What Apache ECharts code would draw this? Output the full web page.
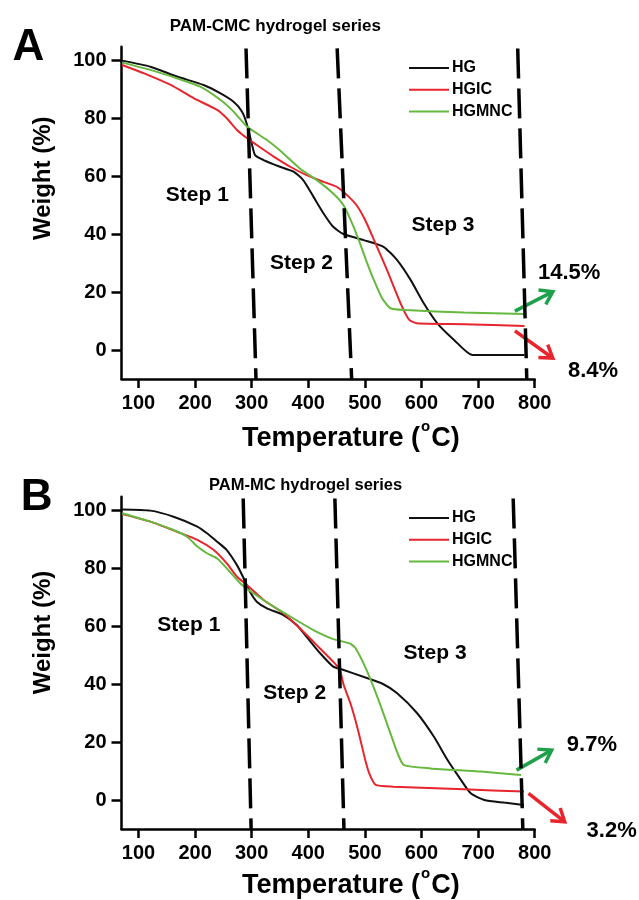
<!DOCTYPE html>
<html>
<head>
<meta charset="utf-8">
<script src="https://cdn.jsdelivr.net/npm/echarts@6/dist/echarts.min.js"></script>
<style>
  html, body { margin: 0; padding: 0; background: #fff; }
  #main { width: 639px; height: 900px; }
</style>
</head>
<body>
<div id="main"></div>
<script>
// TGA curves, [temperature (°C), weight (%)]
// panel A: PAM-CMC hydrogel series
const hgA = [[71, 99.8], [121, 97.7], [168, 94.3], [215, 91.4], [245, 88.5], [268, 85.6], [283, 82.2], [291, 78.2], [300, 71.3], [306, 67.2], [321, 65.5], [350, 63.2], [374, 61.5], [391, 58.6], [409, 52.9], [427, 47.1], [444, 42.5], [462, 40], [498, 37.9], [533, 35.6], [557, 31], [581, 24.1], [604, 16.1], [628, 9.2], [658, 3.4], [690, -1.7], [782, -1.7]];
const hgicA = [[71, 98.3], [110, 95.4], [157, 91.4], [198, 86.8], [239, 82.8], [256, 79.9], [274, 75.9], [292, 73], [309, 70.7], [339, 66.7], [368, 63.2], [397, 60.3], [427, 58], [450, 56.3], [468, 53.5], [485, 50], [500, 45], [516, 38], [539, 27.6], [563, 16.1], [578, 10.5], [592, 9.2], [675, 8.9], [782, 8.3]];
const hgmncA = [[71, 99.1], [121, 96.6], [168, 93.7], [209, 90.8], [245, 86.2], [268, 82.2], [291, 77.2], [327, 72.4], [356, 67.8], [385, 62.6], [415, 58.6], [444, 54], [462, 50], [479, 43], [490, 37.5], [502, 31], [515, 24.5], [530, 18], [545, 14.4], [573, 13.8], [675, 12.9], [782, 12.4]];

// panel B: PAM-MC hydrogel series
const hgB = [[71, 100.2], [121, 99.8], [162, 97.7], [204, 94.3], [221, 92], [239, 89.1], [256, 86.2], [274, 81], [286, 76.4], [297, 71.8], [309, 68.4], [327, 66.1], [356, 63.8], [380, 60.3], [397, 56.3], [421, 50.6], [444, 46], [460, 45], [497, 42.5], [532, 40], [557, 36.8], [592, 30], [622, 21.8], [646, 13.8], [666, 8], [687, 2.3], [711, 0], [746, -0.9], [781, -1.7]];
const hgicB = [[71, 98.6], [121, 96], [168, 92.5], [204, 89.7], [233, 86.2], [256, 81.6], [274, 77], [292, 74.1], [321, 69], [356, 64.4], [385, 59.2], [415, 53.4], [444, 47.7], [456, 44.8], [462, 40], [475, 33], [488, 24], [501, 13.5], [508, 9], [519, 5.2], [550, 4.6], [675, 3.7], [781, 2.9]];
const hgmncB = [[71, 98.9], [121, 96], [162, 93.1], [186, 90.8], [204, 87.4], [221, 85.1], [239, 83.3], [256, 79.9], [280, 74.7], [303, 71.3], [339, 66.7], [374, 62.6], [409, 58.6], [444, 55.5], [473, 54], [483, 52.5], [503, 44.8], [524, 34.5], [546, 22.5], [558, 16], [569, 12], [616, 10.9], [705, 9.8], [776, 8.6]];

const seriesNames = ['HG', 'HGIC', 'HGMNC'];
const tempTicks = [100, 200, 300, 400, 500, 600, 700, 800];
const weightTicks = [0, 20, 40, 60, 80, 100];

// dashed step boundaries: [temperature at top, temperature at bottom]
const stepLinesA = [[290, 307.6], [451, 476.6], [770, 786]];
const stepLinesB = [[285, 299], [447, 463], [762, 779]];

// annotation anchors in data units [temperature, weight]
const stepLabels = ['Step 1', 'Step 2', 'Step 3'];
const stepPosA = [[204, 53.4], [388, 30], [638, 43.1]];
const stepPosB = [[189, 60.3], [376, 36.9], [624, 50.7]];
const residueA = ['14.5%', '8.4%'];
const residueB = ['9.7%', '3.2%'];
const residuePosA = [[861, 26.6], [903, -7.2]];
const residuePosB = [[901, 19], [936, -10.7]];
// arrows: [t0, w0, t1, w1], first green (HGMNC), then red (HGIC)
const arrowsA = [[765, 13.4, 832, 20.1], [765, 6.6, 832, -2.8]];
const arrowsB = [[768, 10.3, 830, 17.2], [789, 2.3, 853, -7.5]];

const FONT = 'Liberation Sans, Arial, Helvetica, sans-serif';
const lineColors = ['#111111', '#e8242c', '#66b83f'];
const arrowColors = ['#1fa04a', '#e8242c'];

const chart = echarts.init(document.getElementById('main'));

function makeXAxis(gi) {
  return {
    type: 'value',
    gridIndex: gi,
    min: 70,
    max: 800,
    axisLine: { show: true, onZero: false, lineStyle: { color: '#000', width: 2.5 } },
    axisTick: { show: true, length: 9, customValues: tempTicks, lineStyle: { color: '#000', width: 2.5 } },
    axisLabel: { customValues: tempTicks, margin: 14, color: '#000', fontSize: 20, fontWeight: 'bold', fontFamily: FONT },
    splitLine: { show: false },
  };
}

function makeYAxis(gi) {
  return {
    type: 'value',
    gridIndex: gi,
    min: -10,
    max: 104.6,
    axisLine: { show: true, onZero: false, lineStyle: { color: '#000', width: 2.5 } },
    axisTick: { show: true, length: 10, customValues: weightTicks, lineStyle: { color: '#000', width: 2.5 } },
    axisLabel: { customValues: weightTicks, margin: 15, color: '#000', fontSize: 20, fontWeight: 'bold', fontFamily: FONT },
    splitLine: { show: false },
  };
}

function makeSeries(name, data, idx, gi, steps) {
  const s = {
    name: name,
    type: 'line',
    xAxisIndex: gi,
    yAxisIndex: gi,
    data: data,
    symbol: 'none',
    smooth: 0.2,
    lineStyle: { color: lineColors[idx], width: 2 },
    itemStyle: { color: lineColors[idx] },
    z: 3,
  };
  if (steps) {
    s.markLine = {
      silent: true,
      symbol: ['none', 'none'],
      label: { show: false },
      lineStyle: { color: '#000', width: 3.5, type: [30, 10] },
      data: steps.map((d) => [{ coord: [d[0], 104] }, { coord: [d[1], -10] }]),
    };
  }
  return s;
}

function makeLegend(top) {
  return {
    data: seriesNames,
    orient: 'vertical',
    left: 403,
    top: top,
    itemWidth: 40,
    itemHeight: 16,
    itemGap: 5.7,
    selectedMode: false,
    itemStyle: { opacity: 0 },
    textStyle: { color: '#000', fontSize: 16, fontWeight: 'bold', fontFamily: FONT, padding: [0, 0, 0, -2] },
  };
}

const option = {
  animation: false,
  backgroundColor: '#fff',
  grid: [
    { left: 121.5, top: 46.7, width: 413.2, height: 332.3 },
    { left: 121.5, top: 496.7, width: 413.2, height: 332.3 },
  ],
  xAxis: [makeXAxis(0), makeXAxis(1)],
  yAxis: [makeYAxis(0), makeYAxis(1)],
  legend: [makeLegend(55), makeLegend(505)],
  series: [
    makeSeries('HG', hgA, 0, 0, stepLinesA),
    makeSeries('HGIC', hgicA, 1, 0),
    makeSeries('HGMNC', hgmncA, 2, 0),
    makeSeries('HG', hgB, 0, 1, stepLinesB),
    makeSeries('HGIC', hgicB, 1, 1),
    makeSeries('HGMNC', hgmncB, 2, 1),
  ],
};

chart.setOption(option);

// ---- annotations (texts, arrows), anchored through the axes ----
function toPx(gi, t, w) {
  return chart.convertToPixel({ gridIndex: gi }, [t, w]);
}

function text(x, y, str, size, extra) {
  return Object.assign({
    type: 'text',
    x: x,
    y: y,
    silent: true,
    style: {
      text: str,
      fontSize: size,
      fontWeight: 'bold',
      fontFamily: FONT,
      fill: '#000',
      align: 'center',
      verticalAlign: 'middle',
    },
  }, extra || {});
}

function arrow(gi, a, color) {
  const p0 = toPx(gi, a[0], a[1]);
  const p1 = toPx(gi, a[2], a[3]);
  const dx = p1[0] - p0[0];
  const dy = p1[1] - p0[1];
  const len = Math.sqrt(dx * dx + dy * dy);
  const ux = dx / len;
  const uy = dy / len;
  const hl = 12;
  const hw = 8;
  const bx = p1[0] - ux * hl;
  const by = p1[1] - uy * hl;
  return [
    { type: 'line', silent: true, shape: { x1: p0[0], y1: p0[1], x2: p1[0] - ux * 1.5, y2: p1[1] - uy * 1.5 }, style: { stroke: color, lineWidth: 3.5 } },
    { type: 'polyline', silent: true, shape: { points: [[bx - uy * hw, by + ux * hw], p1, [bx + uy * hw, by - ux * hw]] }, style: { stroke: color, fill: null, lineWidth: 3.5, lineJoin: 'miter' } },
  ];
}

// "Temperature (°C)" with a raised small o, built from three pieces
const measure = document.createElement('canvas').getContext('2d');
function tempTitle(cx, cy) {
  measure.font = 'bold 27px ' + FONT;
  const w1 = measure.measureText('Temperature (').width;
  const w3 = measure.measureText('C)').width;
  measure.font = 'bold 15px ' + FONT;
  const w2 = measure.measureText('o').width + 2;
  const x0 = cx - (w1 + w2 + w3) / 2;
  const parts = [
    text(x0, cy, 'Temperature (', 27),
    text(x0 + w1 + 1, cy - 12, 'o', 15),
    text(x0 + w1 + w2, cy, 'C)', 27),
  ];
  parts.forEach((p) => { p.style.align = 'left'; });
  return parts;
}

const g = [];
// panel letters and titles
g.push(text(28.3, 47.5, 'A', 44));
g.push(text(36.7, 497.5, 'B', 44));
g.push(text(275.3, 26.6, 'PAM-CMC hydrogel series', 17));
g.push(text(305.6, 485, 'PAM-MC hydrogel series', 16.5));
// axis titles
[178.3, 632.5].forEach((y) => {
  g.push(text(43.3, y, 'Weight (%)', 24, { rotation: Math.PI / 2 }));
});
[439, 886].forEach((y) => {
  tempTitle(350.8, y).forEach((e) => g.push(e));
});

[[0, stepPosA, residueA, residuePosA, arrowsA], [1, stepPosB, residueB, residuePosB, arrowsB]].forEach((p) => {
  const gi = p[0];
  p[1].forEach((pos, i) => {
    const q = toPx(gi, pos[0], pos[1]);
    g.push(text(q[0], q[1], stepLabels[i], 21));
  });
  p[3].forEach((pos, i) => {
    const q = toPx(gi, pos[0], pos[1]);
    g.push(text(q[0], q[1], p[2][i], 22));
  });
  p[4].forEach((a, i) => {
    arrow(gi, a, arrowColors[i]).forEach((e) => g.push(e));
  });
});

chart.setOption({ graphic: { elements: g } });
</script>
</body>
</html>
